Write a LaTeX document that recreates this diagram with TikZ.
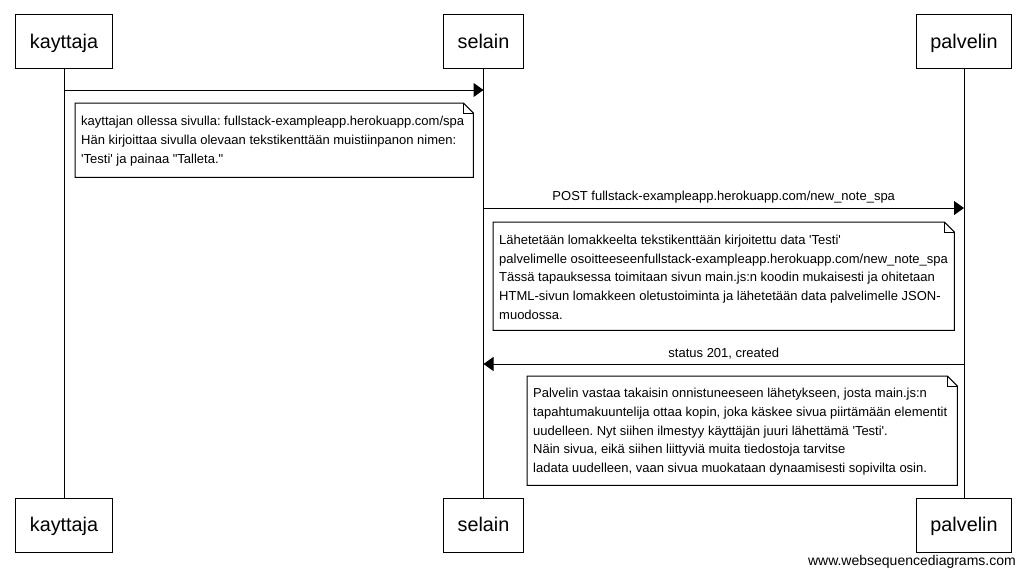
\documentclass[tikz,border=0pt]{standalone}
\usepackage{fontspec}
\setmainfont{Liberation Sans}[Ligatures=TeXOff]
\usetikzlibrary{arrows.meta}
\tikzset{
  actor/.style={draw, line width=1pt, minimum height=54pt, inner xsep=14pt, inner ysep=0pt,
    text height=16.5pt, text depth=3.3pt,
    font=\fontsize{19.8}{23}\selectfont},
  lifeline/.style={line width=1pt},
  msg/.style={line width=1pt, -{Triangle[length=10pt,width=14pt]}},
  msglabel/.style={font=\fontsize{13}{15}\selectfont, inner sep=0pt},
  notebox/.style={anchor=north west, inner sep=0pt},
  notetext/.style={anchor=west, align=left, inner sep=0pt,
    font=\fontsize{13}{18.6}\selectfont},
  noteline/.style={line width=1pt, line join=miter},
}
\newcommand{\drawnote}[1]{%
  \draw[noteline] (#1.north west) -- ([xshift=-10pt]#1.north east) -- ([yshift=-10pt]#1.north east)
     -- (#1.south east) -- (#1.south west) -- cycle;
  \draw[line width=0.8pt] ([xshift=-10pt]#1.north east) -- ([xshift=-10pt,yshift=-10pt]#1.north east)
     -- ([yshift=-10pt]#1.north east);
}
\begin{document}
\frenchspacing
\begin{tikzpicture}[x=1pt,y=-1pt]
\useasboundingbox (0,0) rectangle (1025,576);
\fill[white] (0,0) rectangle (1025,576);
% actors
\node[actor] (k) at (64,41.5) {kayttaja};
\node[actor] (s) at (483.5,41.5) {selain};
\node[actor] (p) at (964,41.5) {palvelin};
\node[actor] (kb) at (64,525) {kayttaja};
\node[actor] (sb) at (483.5,525) {selain};
\node[actor] (pb) at (964,525) {palvelin};
% lifelines
\draw[lifeline] (k) -- (kb);
\draw[lifeline] (s) -- (sb);
\draw[lifeline] (p) -- (pb);
% message 1
\draw[msg] (k |- 0,90) -- (s |- 0,90);
% note 1
\node[notebox, minimum width=398pt, minimum height=74pt] (n1) at (75,103) {};
\drawnote{n1}
\node[notetext] (t1) at ([xshift=6pt,yshift=-1pt]n1.west)
 {kayttajan ollessa sivulla: fullstack-exampleapp.herokuapp.com/spa\\
  Hän kirjoittaa sivulla olevaan tekstikenttään muistiinpanon nimen:\\
  'Testi' ja painaa "Talleta."};
% message 2
\draw[msg] (s |- 0,208) -- node[msglabel, above=4pt] (l2) {POST fullstack-exampleapp.herokuapp.com/new\_note\_spa} (p |- 0,208);
% note 2
\node[notebox, minimum width=461pt, minimum height=108pt] (n2) at (493,222) {};
\drawnote{n2}
\node[notetext] (t2) at ([xshift=6pt,yshift=-1pt]n2.west)
 {Lähetetään lomakkeelta tekstikenttään kirjoitettu data 'Testi'\\
  palvelimelle osoitteeseenfullstack-exampleapp.herokuapp.com/new\_note\_spa\\
  Tässä tapauksessa toimitaan sivun main.js:n koodin mukaisesti ja ohitetaan\\
  HTML-sivun lomakkeen oletustoiminta ja lähetetään data palvelimelle JSON-\\
  muodossa.};
% message 3
\draw[msg] (p |- 0,364) -- node[msglabel, above=4pt] (l3) {status 201, created} (s |- 0,364);
% note 3
\node[notebox, minimum width=430pt, minimum height=109pt] (n3) at (527,376) {};
\drawnote{n3}
\node[notetext] (t3) at ([xshift=6pt,yshift=-1pt]n3.west)
 {Palvelin vastaa takaisin onnistuneeseen lähetykseen, josta main.js:n\\
  tapahtumakuuntelija ottaa kopin, joka käskee sivua piirtämään elementit\\
  uudelleen. Nyt siihen ilmestyy käyttäjän juuri lähettämä 'Testi'.\\
  Näin sivua, eikä siihen liittyviä muita tiedostoja tarvitse\\
  ladata uudelleen, vaan sivua muokataan dynaamisesti sopivilta osin.};
% footer
\node[anchor=east, inner sep=0pt, font=\fontsize{14}{16}\selectfont] (footer) at (1016,562) {www.websequencediagrams.com};
\end{tikzpicture}
\end{document}
